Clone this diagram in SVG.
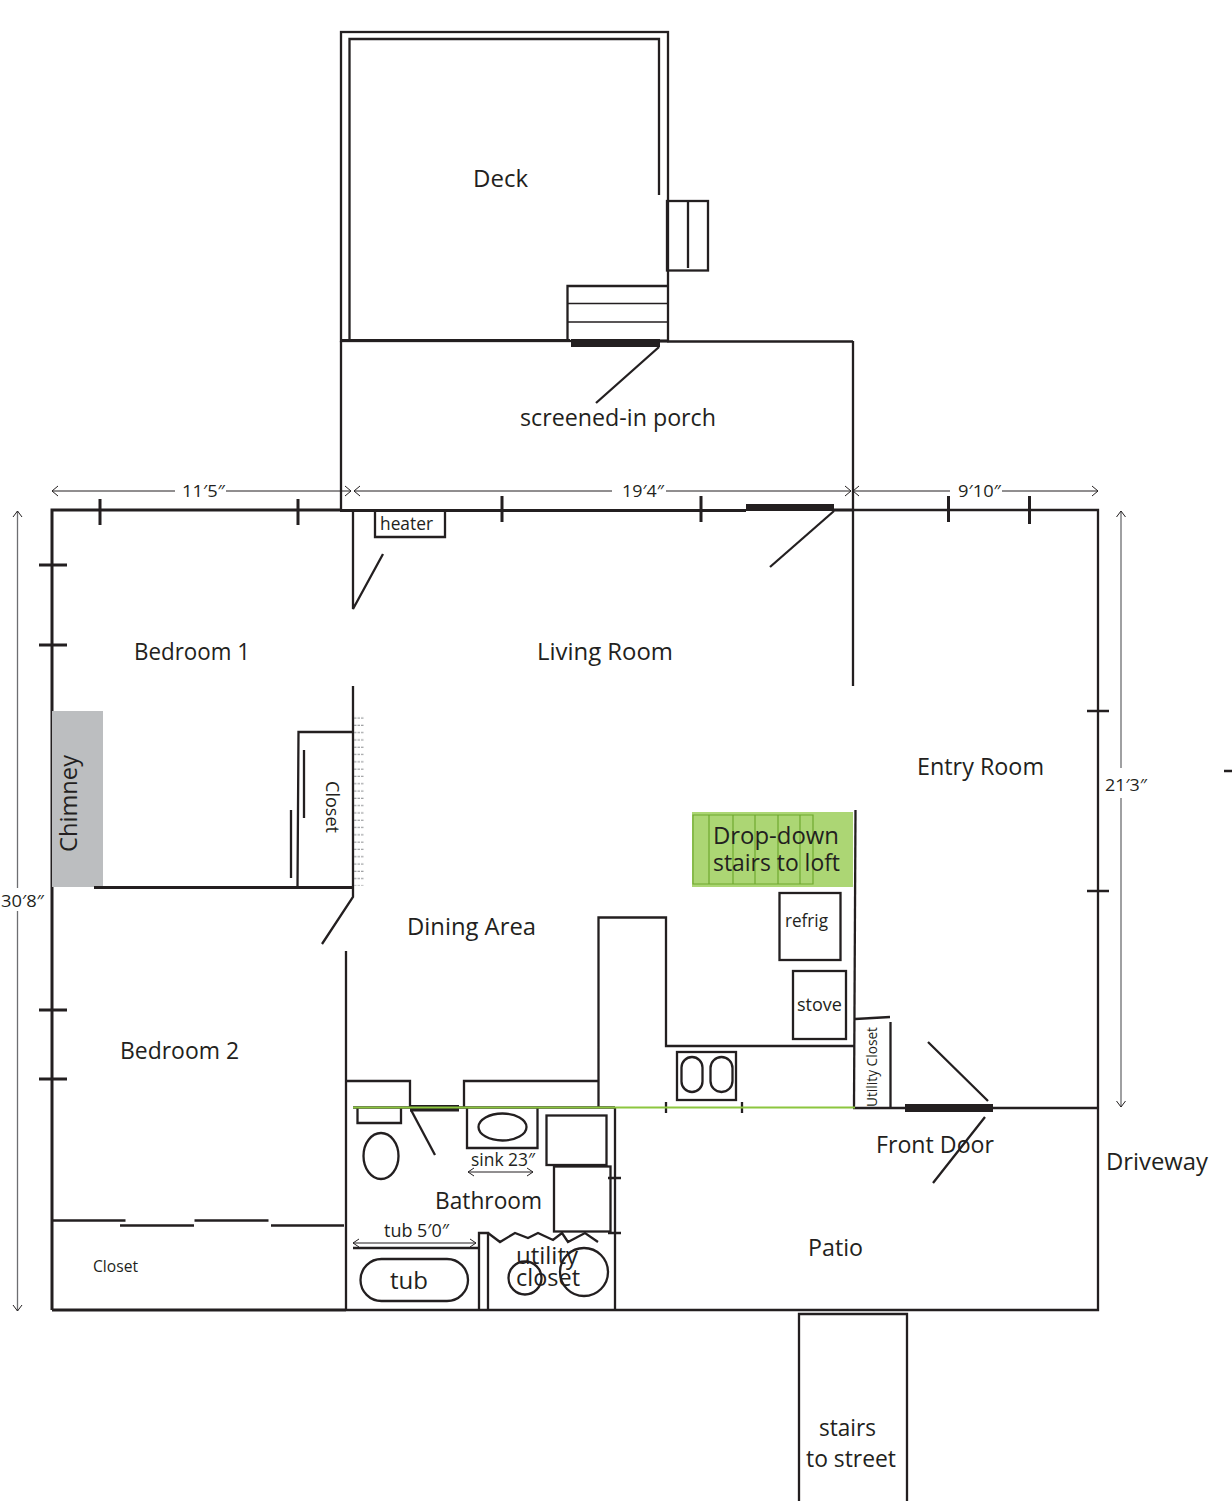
<svg xmlns="http://www.w3.org/2000/svg" width="1232" height="1501" viewBox="0 0 1232 1501">
<style>
text{font-family:"Open Sans","Noto Sans","Liberation Sans",sans-serif;fill:#231f20}
.w{fill:none;stroke:#231f20;stroke-width:2.3}
.t{fill:none;stroke:#231f20;stroke-width:1.7}
.h{fill:none;stroke:#231f20;stroke-width:3}
.d{fill:none;stroke:#231f20;stroke-width:1}
.g{fill:none;stroke:#6d6e71;stroke-width:1.3}
.ah{fill:none;stroke:#231f20;stroke-width:1}
.s{fill:none;stroke:#6fa82f;stroke-width:1.2}
</style>
<defs>
<pattern id="dash" width="12" height="7.3" patternUnits="userSpaceOnUse" x="354" y="715"><path d="M0 3H10" stroke="#808285" stroke-width="1" stroke-dasharray="2.5 1"/></pattern>
</defs>
<g id="deck">
<rect class="w" x="341" y="32" width="327" height="309"/>
<path class="w" d="M349.500 340V39H659V195"/>
<text x="473" y="187" font-size="24" textLength="55" lengthAdjust="spacingAndGlyphs">Deck</text>
<rect class="w" x="667" y="201" width="41" height="69.500"/>
<path class="w" d="M688 201V268"/>
<path class="w" d="M567.500 340V286H667"/>
<path class="t" d="M568 303.500H667M568 322H667"/>
</g>
<g id="porch">
<path class="h" d="M340 340.500H570M660 341H667"/>
<path class="w" d="M667 341.500H853"/>
<path class="w" d="M341 341V510M853 341V510"/>
<rect x="571" y="339" width="89" height="8" fill="#231f20"/>
<path class="w" d="M659 347L596 403"/>
<text x="520" y="426" font-size="24" textLength="196" lengthAdjust="spacingAndGlyphs">screened-in porch</text>
</g>
<g id="outer-walls">
<path class="h" d="M52 1310V510H340"/>
<path class="h" d="M340 510.500H746M834 510H853M52 1310H346"/>
<path class="w" d="M853 510H1098V1310H346"/>
<rect x="746" y="504" width="88" height="7" fill="#231f20"/>
<path class="w" d="M834 511L770 567"/>
<path class="h" d="M100 499V525M298 499V525M502 496V522M701 496V522M948.500 496V522M1029.500 496V524"/>
<path class="h" d="M39 565H67M39 645H67M39 1010H67M39 1079H67"/>
<path class="w" d="M1087 711H1109M1087 891H1109M1224 771H1232"/>
</g>
<g id="dimensions">
<path class="d" d="M52 491H175M226 491H351M354 491H612M666 491H851M853 491H950M1002 491H1098"/>
<path class="ah" d="M58 486L52 491L58 496M345 486L351 491L345 496M360 486L354 491L360 496M845 486L851 491L845 496M859 486L853 491L859 496M1092 486L1098 491L1092 496"/>
<text x="182" y="497" font-size="17" textLength="43" lengthAdjust="spacingAndGlyphs">11′5″</text>
<text x="622" y="497" font-size="17" textLength="42" lengthAdjust="spacingAndGlyphs">19′4″</text>
<text x="958" y="497" font-size="17" textLength="43" lengthAdjust="spacingAndGlyphs">9′10″</text>
<path class="g" d="M17.500 511V888M17.500 911V1311"/>
<path class="ah" d="M13 517L17.500 511L22 517M13 1305L17.500 1311L22 1305"/>
<text x="1" y="907" font-size="17" textLength="43" lengthAdjust="spacingAndGlyphs">30′8″</text>
<path class="g" d="M1121 511V768M1121 798V1107"/>
<path class="ah" d="M1116.500 517L1121 511L1125.500 517M1116.500 1101L1121 1107L1125.500 1101"/>
<text x="1105" y="791" font-size="17" textLength="42" lengthAdjust="spacingAndGlyphs">21′3″</text>
</g>
<g id="bedroom-1">
<text x="134" y="660" font-size="24" textLength="116" lengthAdjust="spacingAndGlyphs">Bedroom 1</text>
<rect x="52" y="711" width="51" height="176" fill="#bcbec0"/>
<text transform="translate(77 852) rotate(-90)" font-size="24" textLength="97" lengthAdjust="spacingAndGlyphs">Chimney</text>
<path class="w" d="M353 510V609L383 554"/>
<path class="w" d="M353 686V897L322 944"/>
<path class="h" d="M94 887.500H353"/>
<path class="w" d="M353 732H298.500L297.500 887"/>
<path class="w" d="M304 750V818M291 810V878"/>
<text transform="translate(326 781) rotate(90)" font-size="18" textLength="52" lengthAdjust="spacingAndGlyphs">Closet</text>
<rect x="354" y="715" width="11" height="171" fill="url(#dash)"/>
</g>
<g id="heater">
<path class="w" d="M375 510V537H445V510"/>
<text x="380" y="530" font-size="18" textLength="53" lengthAdjust="spacingAndGlyphs">heater</text>
</g>
<g id="living-room"><text x="537" y="660" font-size="24" textLength="136" lengthAdjust="spacingAndGlyphs">Living Room</text>
<path class="w" d="M853 510V686"/></g>
<g id="entry-room"><text x="917" y="775" font-size="24" textLength="127" lengthAdjust="spacingAndGlyphs">Entry Room</text></g>
<g id="dining-area"><text x="407" y="935" font-size="24" textLength="129" lengthAdjust="spacingAndGlyphs">Dining Area</text></g>
<g id="stairs-to-loft">
<rect x="692" y="812" width="161" height="75" fill="#8cc63f" opacity=".72"/>
<path class="s" d="M693 815H813V884H693ZM709 815V884M733 815V884M755 815V884M778 815V884M800 815V884"/>
<text x="713" y="844" font-size="24" textLength="126" lengthAdjust="spacingAndGlyphs">Drop-down</text>
<text x="713" y="871" font-size="24" textLength="127" lengthAdjust="spacingAndGlyphs">stairs to loft</text>
</g>
<g id="kitchen">
<path class="w" d="M855.500 810L854 1107"/>
<path class="w" d="M598.500 1107V917.500H666V1046H854"/>
<rect class="w" x="779.500" y="893" width="61" height="67"/>
<text x="785" y="927" font-size="18" textLength="43" lengthAdjust="spacingAndGlyphs">refrig</text>
<rect class="w" x="793" y="971" width="53" height="68"/>
<text x="797" y="1011" font-size="18" textLength="45" lengthAdjust="spacingAndGlyphs">stove</text>
<rect class="w" x="677" y="1052" width="59" height="48"/>
<rect class="w" x="681.500" y="1057" width="21" height="35" rx="10.500"/>
<rect class="w" x="710.500" y="1057" width="22" height="35" rx="11"/>
<path class="w" d="M666 1102V1113M742 1102V1113"/>
</g>
<g id="utility-closet">
<path class="w" d="M855 1019L890 1017M890.500 1022V1107"/>
<text transform="translate(877 1107) rotate(-90)" font-size="15" textLength="80" lengthAdjust="spacingAndGlyphs">Utility Closet</text>
</g>
<g id="front-door">
<path class="w" d="M853 1108H1098"/>
<rect x="905" y="1104" width="88" height="8" fill="#231f20"/>
<path class="w" d="M928 1042L988 1101M985 1117L933 1183"/>
<text x="876" y="1153" font-size="24" textLength="118" lengthAdjust="spacingAndGlyphs">Front Door</text>
</g>
<g id="bedroom-2">
<text x="120" y="1059" font-size="24" textLength="119" lengthAdjust="spacingAndGlyphs">Bedroom 2</text>
<path class="w" d="M346 951V1310"/>
<path class="w" d="M52 1220.500H125.500M120 1225.500H194M194.500 1220.500H268.500M271 1225.500H344"/>
<text x="93" y="1272" font-size="16" textLength="45" lengthAdjust="spacingAndGlyphs">Closet</text>
</g>
<g id="bathroom">
<path class="w" d="M346 1081H410V1107M464 1107V1081H598"/>
<path class="w" d="M353 1107.500H615"/>
<rect x="410" y="1105" width="49" height="6.500" fill="#231f20"/>
<path class="w" d="M357.500 1108V1123H401V1108"/>
<ellipse class="w" cx="381" cy="1156" rx="17.500" ry="23"/>
<path class="w" d="M411 1110L435 1155"/>
<path class="w" d="M467 1108V1148H537.500V1108"/>
<ellipse class="w" cx="502.500" cy="1127" rx="24" ry="13.500"/>
<text x="471" y="1166" font-size="18" textLength="64" lengthAdjust="spacingAndGlyphs">sink 23″</text>
<path class="d" d="M468 1172H533"/>
<path class="ah" d="M474 1168L468 1172L474 1176M527 1168L533 1172L527 1176"/>
<text x="435" y="1209" font-size="24" textLength="107" lengthAdjust="spacingAndGlyphs">Bathroom</text>
<rect class="w" x="546.500" y="1115.500" width="60" height="49.500"/>
<rect class="w" x="554" y="1166.500" width="56.500" height="65"/>
<path class="w" d="M615 1107.500V1310"/>
<path class="w" d="M608 1178H621M608 1233H621"/>
<text x="384" y="1237" font-size="18" textLength="65" lengthAdjust="spacingAndGlyphs">tub 5′0″</text>
<path class="d" d="M353 1243H476"/>
<path class="ah" d="M359 1239L353 1243L359 1247M470 1239L476 1243L470 1247"/>
<path class="w" d="M353 1248H479"/>
<rect class="w" x="360.500" y="1259" width="107.500" height="42" rx="21"/>
<text x="390" y="1289" font-size="24" textLength="38" lengthAdjust="spacingAndGlyphs">tub</text>
<path class="w" d="M479 1310V1233H488V1310"/>
<path class="w" d="M488 1233L500 1242L515 1233L528 1238L538 1233L553 1240L562 1233L568 1242L585 1233L598 1242"/>
<circle class="w" cx="525" cy="1278" r="16.500"/>
<circle class="w" cx="584" cy="1272" r="24"/>
<text x="516" y="1264" font-size="24" textLength="62" lengthAdjust="spacingAndGlyphs">utility</text>
<text x="516" y="1286" font-size="24" textLength="64" lengthAdjust="spacingAndGlyphs">closet</text>
<path d="M353 1107.500H855" fill="none" stroke="#8cc63f" stroke-width="2"/>
</g>
<g id="patio"><text x="808" y="1256" font-size="24" textLength="55" lengthAdjust="spacingAndGlyphs">Patio</text></g>
<g id="driveway"><text x="1106" y="1170" font-size="24" textLength="102" lengthAdjust="spacingAndGlyphs">Driveway</text></g>
<g id="stairs-to-street">
<path class="w" d="M799 1501V1314H907V1501"/>
<text x="819" y="1436" font-size="24" textLength="57" lengthAdjust="spacingAndGlyphs">stairs</text>
<text x="806" y="1467" font-size="24" textLength="90" lengthAdjust="spacingAndGlyphs">to street</text>
</g>
</svg>
